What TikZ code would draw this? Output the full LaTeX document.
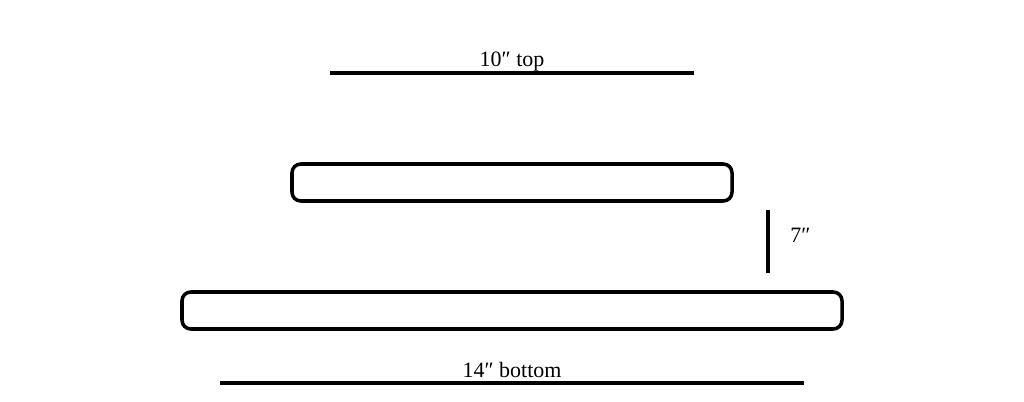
\documentclass[tikz,border=0pt]{standalone}
\usepackage{fontspec}
\setmainfont{Liberation Serif}
\usetikzlibrary{positioning}
\tikzset{
  slab/.style={draw, line width=2pt, rounded corners=5pt},
  dimline/.style={line width=2.1pt},
  dimlabel/.style={font=\fontsize{12.5}{14}\selectfont, inner sep=0pt},
}
\begin{document}
\begin{tikzpicture}[x=0.02cm,y=-0.02cm]
\useasboundingbox (0,0) rectangle (1024,402);
% slabs
\draw[slab] (292,164) rectangle (732,201);
\draw[slab] (182,292) rectangle (842,329);
% top dimension
\coordinate (topL) at (330,73);
\coordinate (topR) at (694,73);
\draw[dimline] (topL) -- (topR);
\node[dimlabel, anchor=base] (toplabel) at (512,67) {10″ top};
% height dimension
\coordinate (hTop) at (768,210);
\coordinate (hBot) at (768,273);
\draw[dimline] (hTop) -- (hBot);
\node[dimlabel, anchor=base west] (hlabel) at (790,242) {7″};
% bottom dimension
\coordinate (botL) at (220,383);
\coordinate (botR) at (804,383);
\draw[dimline] (botL) -- (botR);
\node[dimlabel, anchor=base] (botlabel) at (512,377) {14″ bottom};
\end{tikzpicture}
\end{document}
